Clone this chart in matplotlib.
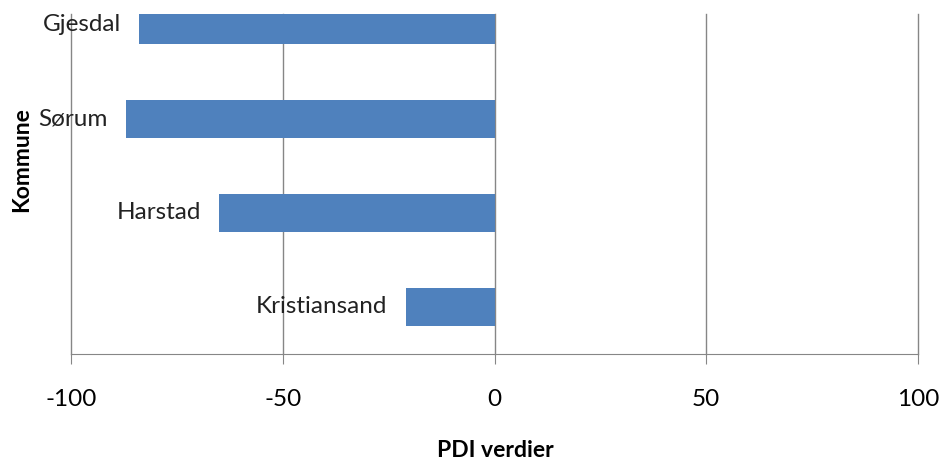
import matplotlib.pyplot as plt

kommuner = ["Kristiansand", "Harstad", "Sørum", "Gjesdal"]
pdi = [-21, -65, -87, -84]
xticks = [-100, -50, 0, 50, 100]

plt.rcParams['font.family'] = ['Lato', 'DejaVu Sans']

fig = plt.figure(figsize=(9.43, 4.61), dpi=100)
ax = fig.add_axes([71 / 943, 1 - 354 / 461, (918 - 71) / 943, (354 - 14) / 461])

pos = list(range(len(kommuner)))
ax.barh(pos, pdi, height=0.4, color='#4F81BD', zorder=3)

for y, v, navn in zip(pos, pdi, kommuner):
    ax.annotate(navn, (v, y), xytext=(-13, 0), textcoords='offset points',
                ha='right', va='center', fontsize=17.5, color='#222222', zorder=4)

ax.set_xlim(-100, 100)
ax.set_ylim(-0.5, 3.117)
ax.set_xticks(xticks)
ax.set_xticklabels([str(t) for t in xticks], fontsize=17.5)
ax.set_yticks([])
ax.grid(axis='x', color='#868686', linewidth=1, zorder=1)
for line in ax.get_xgridlines():
    line.set_clip_on(False)
for s in ['top', 'right', 'left']:
    ax.spines[s].set_visible(False)
ax.spines['bottom'].set_color('#868686')
ax.tick_params(axis='x', length=7, color='#868686', pad=18)

fig.text(495 / 943, 1 - 450 / 461, "PDI verdier", fontsize=16.5,
         fontweight='bold', ha='center', va='center')
fig.text(22 / 943, 1 - 160 / 461, "Kommune", rotation=90, fontsize=16.5,
         fontweight='bold', ha='center', va='center')

fig.savefig("out.png", dpi=100)
